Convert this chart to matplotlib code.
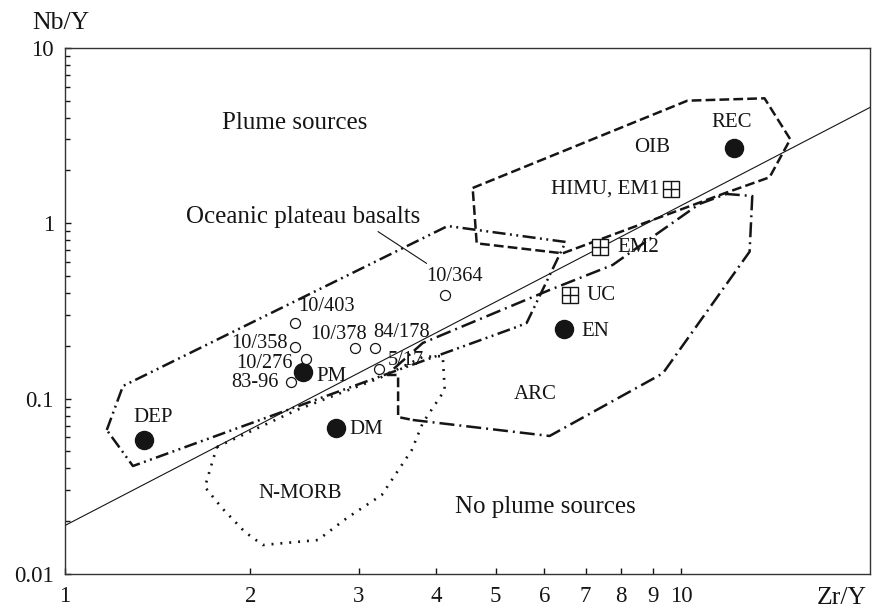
import matplotlib
matplotlib.use("Agg")
import matplotlib.pyplot as plt
import numpy as np
from matplotlib.ticker import FixedLocator, FixedFormatter, NullFormatter, NullLocator, LogLocator

plt.rcParams['font.family'] = ['Liberation Serif', 'DejaVu Serif']
plt.rcParams['lines.scale_dashes'] = False

# ---------------- data ----------------
# reference line
line_zr = [1.0, 20.3]
line_nb = [0.0189, 4.58]

# source end-members (filled circles)
src_names = ["DEP", "DM", "PM", "EN", "REC"]
src_zr = [1.341, 2.752, 2.435, 6.447, 12.17]
src_nb = [0.0584, 0.0677, 0.1422, 0.2492, 2.692]

# crust / mantle components (boxed plus)
comp_names = ["HIMU, EM1", "EM2", "UC"]
comp_zr = [9.641, 7.375, 6.594]
comp_nb = [1.565, 0.734, 0.3894]

# samples (open circles)
smp_names = ["10/364", "10/403", "10/358", "10/276", "83-96", "10/378", "84/178", "5/17"]
smp_zr = [4.134, 2.361, 2.361, 2.466, 2.325, 2.954, 3.183, 3.231]
smp_nb = [0.3894, 0.2708, 0.1975, 0.1675, 0.1235, 0.1950, 0.1950, 0.1468]

# fields
oib_zr = [4.589, 10.24, 13.66, 15.04, 13.92, 11.76, 6.424, 4.659]
oib_nb = [1.586, 4.989, 5.147, 3.006, 1.825, 1.479, 0.673, 0.767]

opb_zr = [1.169, 1.242, 4.180, 6.497, 5.615, 5.410, 1.289]
opb_nb = [0.0662, 0.1179, 0.963, 0.781, 0.2697, 0.2559, 0.04126]

arc_zr = [3.668, 6.118, 9.343, 12.92, 13.05, 11.85, 10.71, 7.743, 6.118, 3.808, 3.329]
arc_nb = [0.0755, 0.0612, 0.1393, 0.6877, 1.428, 1.466, 1.286, 0.5774, 0.4159, 0.2074, 0.1363]
arc_corner_zr = [3.329, 3.473, 3.473, 3.668]
arc_corner_nb = [0.1363, 0.1363, 0.0785, 0.0755]

morb_zr = [1.765, 2.378, 3.243, 3.808, 4.104, 4.134, 3.808, 3.655, 3.267, 2.868, 2.573, 2.095, 1.959, 1.798, 1.687, 1.738]
morb_nb = [0.0530, 0.0861, 0.1311, 0.1726, 0.1748, 0.1119, 0.0726, 0.0509, 0.0282, 0.02085, 0.01562, 0.01463, 0.01735, 0.02378, 0.03133, 0.04466]

leader_zr = [3.223, 3.861]
leader_nb = [0.894, 0.5903]

xticks = [1, 2, 3, 4, 5, 6, 7, 8, 9, 10]
xticklabels = ["1", "2", "3", "4", "5", "6", "7", "8", "9", "10"]
yticks = [0.01, 0.1, 1, 10]
yticklabels = ["0.01", "0.1", "1", "10"]

# ---------------- figure ----------------
fig = plt.figure(figsize=(8.79, 6.08), dpi=100)
ax = fig.add_axes([65/879, 1-574/608, 805.5/879, 526.3/608])
ax.set_xscale('log')
ax.set_yscale('log')
ax.set_xlim(1, 20.3)
ax.set_ylim(0.01, 10)

ink = '#151515'

def closed(a):
    return list(a) + [a[0]]

# fields
ax.plot(closed(oib_zr), closed(oib_nb), color=ink, lw=1.8, dashes=(7, 3))
ax.plot(closed(opb_zr), closed(opb_nb), color=ink, lw=1.8, dashes=(9.4, 3.2, 1.4, 3.2, 1.4, 3.2))
ax.plot(arc_zr, arc_nb, color=ink, lw=1.8, dashes=(10.8, 3.6, 1.4, 3.6))
ax.plot(arc_corner_zr, arc_corner_nb, color=ink, lw=1.8, dashes=(7, 3))
ax.plot(closed(morb_zr), closed(morb_nb), color=ink, lw=1.9, dashes=(1.4, 5.0))

# reference line
ax.plot(line_zr, line_nb, color=ink, lw=0.8)
ax.plot(leader_zr, leader_nb, color=ink, lw=0.8)

# points
ax.plot(src_zr, src_nb, 'o', ms=13, color=ink, ls='none')
ax.plot(comp_zr, comp_nb, 's', ms=12, mfc='white', mec=ink, mew=1.0, ls='none')
ax.plot(comp_zr, comp_nb, '+', ms=12, mec=ink, mew=1.0, ls='none')
ax.plot(smp_zr, smp_nb, 'o', ms=7.2, mfc='white', mec=ink, mew=0.9, ls='none')

# labels
big = 18
mid = 15
sm = 14.7
ax.text(2.361, 3.70, "Plume sources", fontsize=big, ha='center', va='center', color=ink)
ax.text(6.028, 0.0240, "No plume sources", fontsize=big, ha='center', va='center', color=ink)
ax.text(2.432, 1.09, "Oceanic plateau basalts", fontsize=big, ha='center', va='center', color=ink)
ax.text(2.410, 0.02858, "N-MORB", fontsize=mid, ha='center', va='center', color=ink)
ax.text(5.808, 0.1048, "ARC", fontsize=mid, ha='center', va='center', color=ink)
ax.text(8.974, 2.681, "OIB", fontsize=mid, ha='center', va='center', color=ink)
ax.text(12.10, 3.738, "REC", fontsize=mid, ha='center', va='center', color=ink)
ax.text(1.389, 0.0775, "DEP", fontsize=mid, ha='center', va='center', color=ink)
ax.text(2.900, 0.0662, "DM", fontsize=mid, ha='left', va='center', color=ink)
ax.text(2.560, 0.1332, "PM", fontsize=mid, ha='left', va='center', color=ink)
ax.text(6.888, 0.2396, "EN", fontsize=mid, ha='left', va='center', color=ink)
ax.text(7.018, 0.3845, "UC", fontsize=mid, ha='left', va='center', color=ink)
ax.text(7.889, 0.7216, "EM2", fontsize=mid, ha='left', va='center', color=ink)
ax.text(9.22, 1.559, "HIMU, EM1", fontsize=mid, ha='right', va='center', color=ink)

ax.text(4.292, 0.4953, "10/364", fontsize=sm, ha='center', va='center', color=ink)
ax.text(2.388, 0.3327, "10/403", fontsize=sm, ha='left', va='center', color=ink)
ax.text(2.302, 0.2065, "10/358", fontsize=sm, ha='right', va='center', color=ink)
ax.text(2.497, 0.2333, "10/378", fontsize=sm, ha='left', va='center', color=ink)
ax.text(3.163, 0.2374, "84/178", fontsize=sm, ha='left', va='center', color=ink)
ax.text(2.346, 0.1589, "10/276", fontsize=sm, ha='right', va='center', color=ink)
ax.text(2.218, 0.1231, "83-96", fontsize=sm, ha='right', va='center', color=ink)
ax.text(3.342, 0.1644, "5/17", fontsize=sm, ha='left', va='center', color=ink)

# axes styling
ax.xaxis.set_major_locator(FixedLocator(xticks))
ax.xaxis.set_major_formatter(FixedFormatter(xticklabels))
ax.xaxis.set_minor_locator(NullLocator())
ax.yaxis.set_major_locator(FixedLocator(yticks))
ax.yaxis.set_major_formatter(FixedFormatter(yticklabels))
ax.yaxis.set_minor_locator(LogLocator(base=10, subs=range(2, 10)))
ax.yaxis.set_minor_formatter(NullFormatter())

ax.tick_params(axis='both', which='major', direction='in', length=4.5, width=1.0,
               labelsize=16.5, colors=ink)
ax.tick_params(axis='y', which='minor', direction='in', length=3.6, width=1.0, colors=ink)
ax.tick_params(axis='x', which='major', pad=9)
ax.tick_params(axis='y', which='major', pad=8)
for s in ax.spines.values():
    s.set_linewidth(1.0)
    s.set_color('#333333')

fig.text(61/879, 1-23/608, "Nb/Y", fontsize=18.5, ha='center', va='center', color=ink)
fig.text(842/879, 1-598/608, "Zr/Y", fontsize=18.5, ha='center', va='center', color=ink)

fig.savefig('out.png', dpi=100)
